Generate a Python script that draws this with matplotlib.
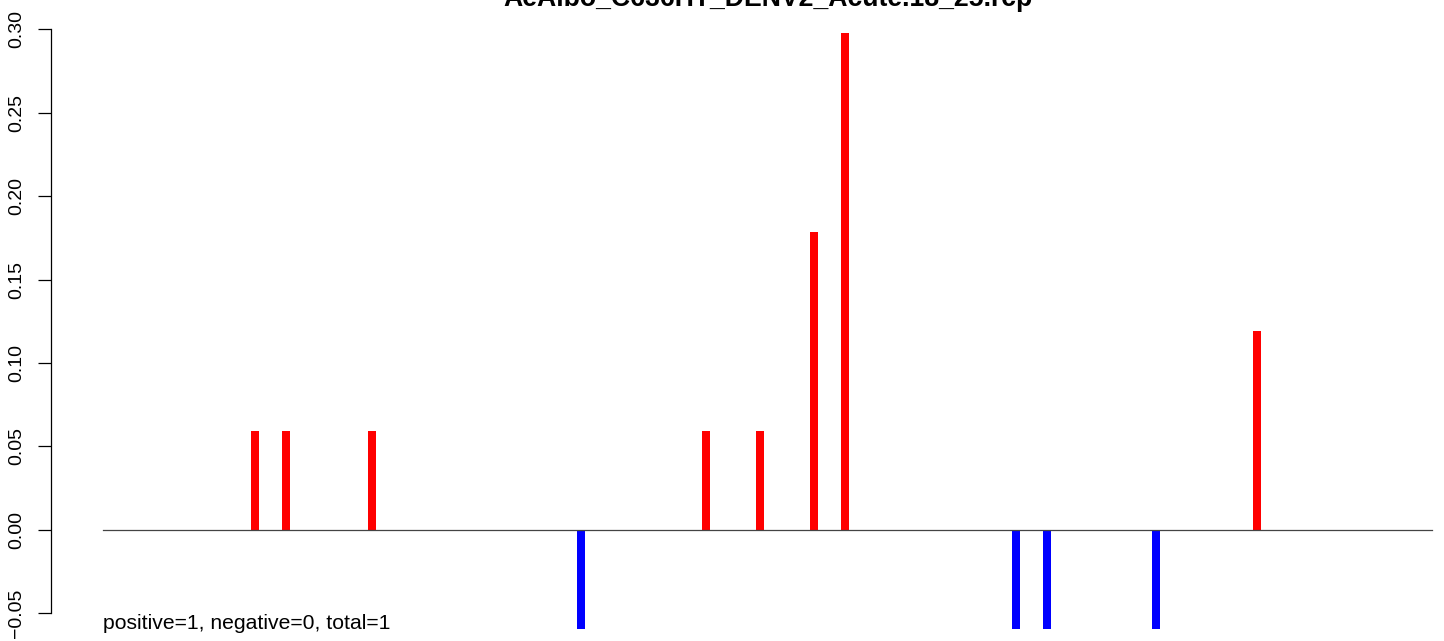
import matplotlib
matplotlib.use("Agg")
import matplotlib.pyplot as plt

plt.rcParams['font.family'] = ['Liberation Sans', 'DejaVu Sans']

title = "AeAlbo_C636HT_DENV2_Acute.18_25.rcp"
footer = "positive=1, negative=0, total=1"
positions = [20, 24, 35, 62, 78, 85, 92, 96, 118, 122, 136, 149]
values = [0.0595, 0.0595, 0.0595, -0.0595, 0.0595, 0.0595, 0.1785, 0.2975,
          -0.0595, -0.0595, -0.0595, 0.119]
yticks = [-0.05, 0.00, 0.05, 0.10, 0.15, 0.20, 0.25, 0.30]
ytick_labels = ["\u22120.05", "0.00", "0.05", "0.10", "0.15", "0.20", "0.25", "0.30"]
seq_start, seq_end = 0.45, 171.5

W, H = 1444, 641
fig = plt.figure(figsize=(W / 100, H / 100), dpi=100)
ax = fig.add_axes([51 / W, 0, (W - 51) / W, 1])
ax.set_xlim(-6.27, 173.08)
ax.set_ylim(-0.06647, 0.31737)

colors = ['red' if v > 0 else 'blue' for v in values]
ax.bar(positions, values, width=1.03, color=colors, linewidth=0)
ax.plot([seq_start, seq_end], [0, 0], color='#444444', lw=0.9)

for s in ['top', 'right', 'bottom']:
    ax.spines[s].set_visible(False)
ax.spines['left'].set_bounds(-0.05, 0.30)
ax.spines['left'].set_linewidth(0.9)
ax.set_xticks([])
ax.set_yticks(yticks)
ax.set_yticklabels(ytick_labels, rotation=90, va='center', fontsize=14)
ax.tick_params(axis='y', length=9.5, width=0.9, pad=9)

ax.text(0.45, -0.0594, footer, fontsize=15.2, ha='left', va='baseline')
fig.text(767.5 / W, 1 - 6.5 / H, title, fontsize=19.2, fontweight='bold',
         ha='center', va='baseline')

fig.savefig("out.png", dpi=100)
